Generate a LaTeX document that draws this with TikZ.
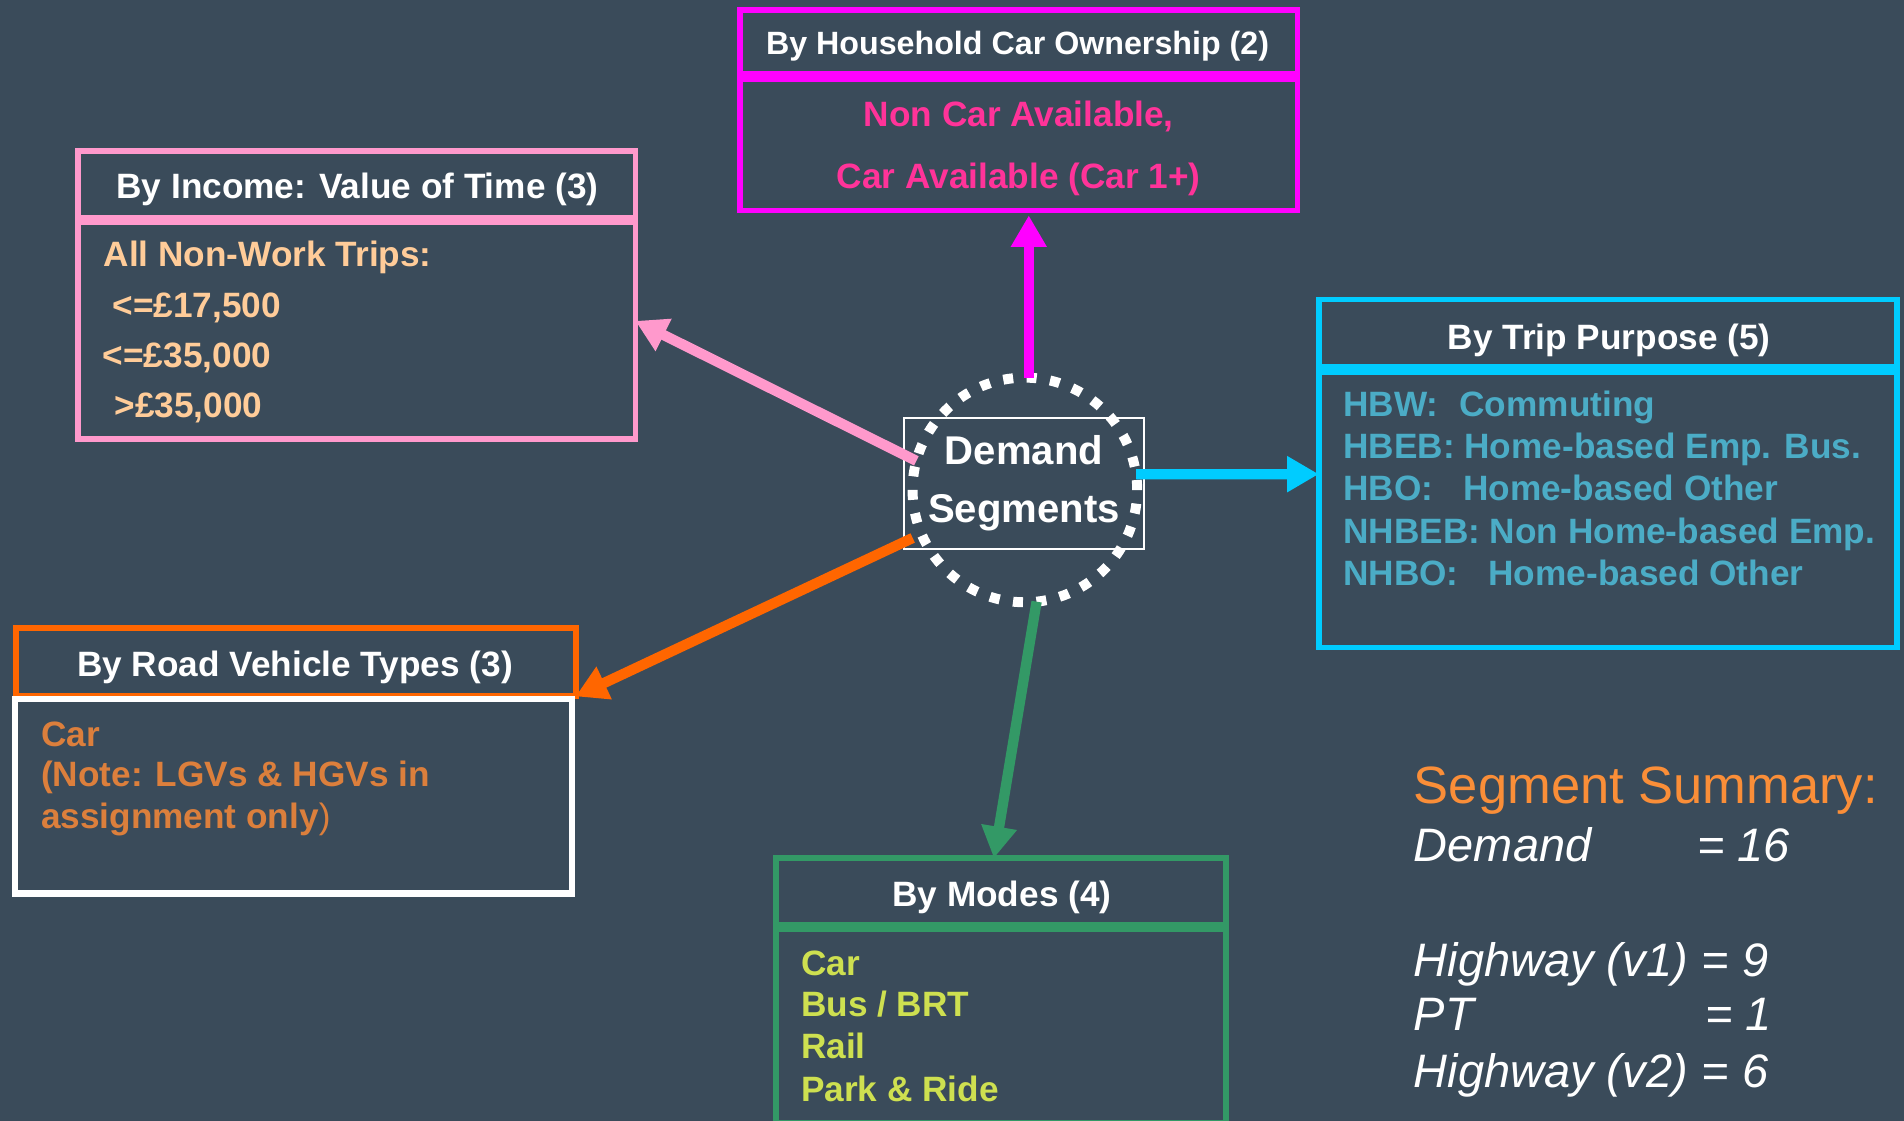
\documentclass[tikz,border=0pt]{standalone}
\usepackage{fontspec}
\setmainfont{Liberation Sans}
\usetikzlibrary{arrows.meta}

\definecolor{bgc}{RGB}{58,75,90}
\definecolor{hhc}{RGB}{255,0,255}
\definecolor{hhtext}{RGB}{255,51,153}
\definecolor{incc}{RGB}{255,153,204}
\definecolor{inctext}{RGB}{255,204,153}
\definecolor{tripc}{RGB}{0,204,255}
\definecolor{triptext}{RGB}{75,172,198}
\definecolor{vehc}{RGB}{255,102,0}
\definecolor{vehtext}{RGB}{220,127,60}
\definecolor{modc}{RGB}{51,153,102}
\definecolor{modtext}{RGB}{206,224,80}
\definecolor{sumc}{RGB}{250,142,56}

\tikzset{
  segbox/.style={draw, line width=0.45mm, inner sep=0pt, outer sep=0pt},
  boxtitle/.style={anchor=base, inner sep=0pt, text=white,
    font=\fontsize{8.25pt}{9.9pt}\selectfont\bfseries},
  boxitem/.style={anchor=base west, inner sep=0pt,
    font=\fontsize{8.25pt}{9.9pt}\selectfont\bfseries},
  segarrow/.style={line width=0.85mm, -{Triangle[length=2.6mm,width=2.8mm]}},
  sumline/.style={anchor=base west, inner sep=0pt, text=white,
    font=\fontsize{11pt}{13pt}\selectfont\itshape}
}

\begin{document}
\begin{tikzpicture}[x=0.1mm,y=-0.1mm]
\useasboundingbox (0,0) rectangle (1568,923);
\fill[bgc] (0,0) rectangle (1568,923);

% household car ownership
\node[segbox, draw=hhc, minimum width=45.94mm, minimum height=5.27mm] (hhtitle) at (839,34.65) {};
\node[segbox, draw=hhc, minimum width=45.94mm, minimum height=10.84mm] (hhbody) at (839,119.2) {};
\node[boxtitle, font=\fontsize{7.55pt}{9pt}\selectfont\bfseries] (hhhead) at (838,44.5) {By Household Car Ownership (2)};
\node[boxitem, anchor=base, text=hhtext] (hh1) at (839,104.3) {Non Car Available,};
\node[boxitem, anchor=base, text=hhtext] (hh2) at (839,155.5) {Car Available (Car 1+)};

% income
\node[segbox, draw=incc, minimum width=45.9mm, minimum height=5.455mm] (inctitle) at (293.75,151.7) {};
\node[segbox, draw=incc, minimum width=45.9mm, minimum height=17.855mm] (incbody) at (293.75,272.3) {};
\node[boxtitle] (inchead) at (294.4,163.4) {By Income: Value of Time (3)};
\node[boxitem, text=inctext] (inc1) at (84.7,219.7) {All Non-Work Trips:};
\node[boxitem, text=inctext] (inc2) at (92,261.4) {<=£17,500};
\node[boxitem, text=inctext] (inc3) at (84,302.9) {<=£35,000};
\node[boxitem, text=inctext] (inc4) at (93.6,344) {>£35,000};

% trip purpose
\node[segbox, draw=tripc, minimum width=47.63mm, minimum height=5.565mm] (triptitle) at (1324.2,274.5) {};
\node[segbox, draw=tripc, minimum width=47.63mm, minimum height=22.685mm] (tripbody) at (1324.2,419.7) {};
\node[boxtitle] (triphead) at (1325.2,287.7) {By Trip Purpose (5)};
\node[boxitem, text=triptext] (trip1) at (1105.5,343.2) {HBW:\hspace{0.6em}Commuting};
\node[boxitem, text=triptext] (trip2) at (1105.5,377.5) {HBEB: Home-based Emp. Bus.};
\node[boxitem, text=triptext] (trip3) at (1105.5,412.4) {HBO:\hspace{0.85em}Home-based Other};
\node[boxitem, text=triptext] (trip4) at (1105.5,447.5) {NHBEB: Non Home-based Emp.};
\node[boxitem, text=triptext] (trip5) at (1105.5,481.9) {NHBO:\hspace{0.85em}Home-based Other};

% road vehicle types
\node[segbox, draw=vehc, line width=0.5mm, minimum width=46.05mm, minimum height=5.6mm] (vehtitle) at (243.75,545.5) {};
\node[segbox, draw=white, line width=0.5mm, minimum width=45.84mm, minimum height=16.05mm] (vehbody) at (241.7,655.55) {};
\node[boxtitle] (vehhead) at (242.9,557.4) {By Road Vehicle Types (3)};
\node[boxitem, text=vehtext] (veh1) at (33.1,614.5) {Car};
\node[boxitem, text=vehtext] (veh2) at (33.1,648) {(Note: LGVs \& HGVs in};
\node[boxitem, text=vehtext] (veh3) at (33.1,682.3) {assignment only{\mdseries)}};

% modes
\node[segbox, draw=modc, minimum width=37.06mm, minimum height=5.45mm] (modtitle) at (824.3,733.95) {};
\node[segbox, draw=modc, minimum width=37.06mm, minimum height=15.93mm] (modbody) at (824.3,844.85) {};
\node[boxtitle] (modhead) at (825.1,746.3) {By Modes (4)};
\node[boxitem, text=modtext] (mod1) at (659,803) {Car};
\node[boxitem, text=modtext] (mod2) at (659,837.5) {Bus / BRT};
\node[boxitem, text=modtext] (mod3) at (659,871.8) {Rail};
\node[boxitem, text=modtext] (mod4) at (659,907) {Park \& Ride};

% centre
\node[draw=white, line width=0.15mm, minimum width=19.79mm, minimum height=10.77mm,
  inner sep=0pt, outer sep=0pt, align=center, text=white,
  font=\fontsize{9.4pt}{13.57pt}\selectfont\bfseries] (demand) at (843.25,398) {Demand\\Segments};
\node[circle, draw=white, line width=0.82mm, dash pattern=on 0.82mm off 1.117mm,
  minimum size=18.5mm, inner sep=0pt, outer sep=0pt] (ring) at (844,403.5) {};

% arrows
\draw[segarrow, hhc, shorten >=0.4mm] (ring.88) -- (ring.88 |- hhbody.south);
\draw[segarrow, incc] (ring.165) -- (incbody.2);
\draw[segarrow, tripc] (ring.8) -- (tripbody.173);
\draw[segarrow, vehc, shorten <=0.8mm] (ring.203) -- (vehtitle.south east);
\draw[segarrow, modc] (ring.276) -- (modtitle.102);

% summary
\node[anchor=base west, inner sep=0pt, text=sumc, font=\fontsize{12.3pt}{14pt}\selectfont] (sumhead) at (1163.7,662) {Segment Summary:};
\node[sumline] (sumdem) at (1163.7,709.8) {Demand};
\node[sumline] (sumdemv) at (1397,709.8) {= 16};
\node[sumline] (sumhw1) at (1163.7,804) {Highway (v1)};
\node[sumline] (sumhw1v) at (1400.8,804) {= 9};
\node[sumline] (sumpt) at (1163.7,849) {PT};
\node[sumline] (sumptv) at (1403.6,849) {= 1};
\node[sumline] (sumhw2) at (1163.7,895.5) {Highway (v2)};
\node[sumline] (sumhw2v) at (1400.8,895.5) {= 6};
\end{tikzpicture}
\end{document}
